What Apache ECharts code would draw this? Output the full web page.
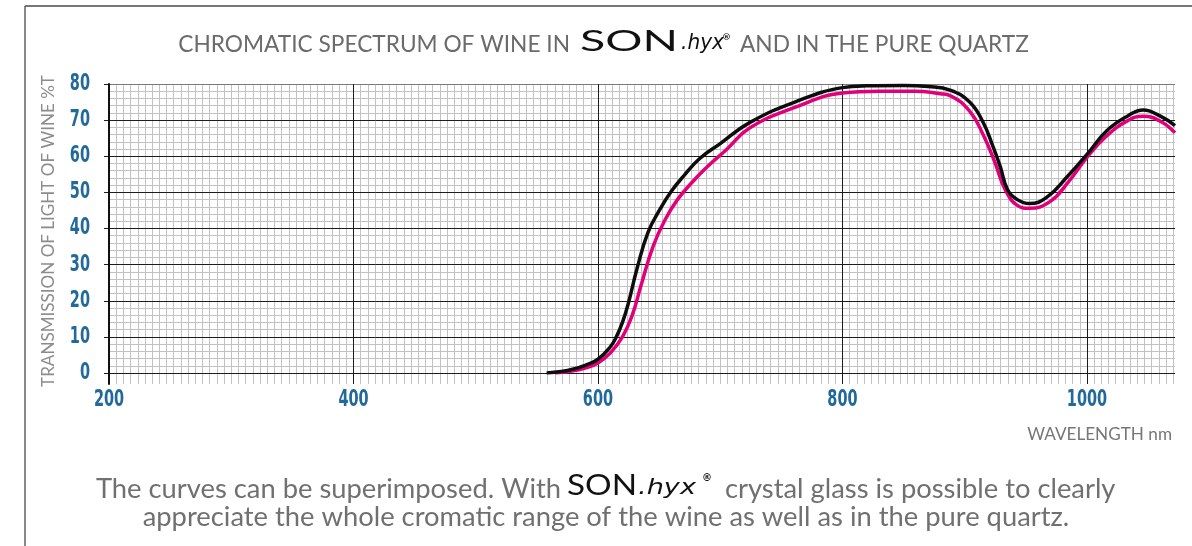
<!DOCTYPE html>
<html><head><meta charset="utf-8">
<script src="https://cdn.jsdelivr.net/npm/echarts@6/dist/echarts.min.js"></script>
<style>html,body{margin:0;padding:0;background:#fff}#c{width:1192px;height:546px}</style>
</head><body><div id="c"></div>
<script>
// ---- data ----
const xTicks = [200, 400, 600, 800, 1000];
const xMax = 1072;
const yTicks = [0, 10, 20, 30, 40, 50, 60, 70, 80];

const blackWavelength = [558, 570, 580, 590, 600, 610, 615, 620, 625, 632, 641, 651, 660, 670, 683, 700, 724, 761, 800, 820, 850, 870, 888, 904, 915, 923, 929, 935, 943, 953, 967, 984, 1000, 1016, 1033, 1046, 1060, 1072];
const blackTransmission = [0, 0.4, 1.1, 2.2, 3.8, 7.2, 10, 14, 19.5, 29, 39, 45.5, 50.3, 54.5, 59.3, 63.5, 69.3, 75, 79, 79.5, 79.6, 79.3, 78.3, 75, 69.4, 62.8, 57.2, 50.8, 48, 46.9, 48.6, 54.4, 60.5, 67, 71.1, 72.8, 71.1, 68.5];

const pinkWavelength = [565, 580, 590, 600, 610, 620, 628, 635, 645, 655, 665, 677, 690, 705, 724, 761, 800, 830, 860, 880, 888, 904, 915, 925, 933, 943, 953, 970, 985, 1000, 1016, 1033, 1046, 1060, 1072];
const pinkTransmission = [0, 0.6, 1.4, 2.8, 5.5, 10, 16, 24, 35, 42.5, 48, 52.8, 57.3, 61.8, 67.8, 73.5, 77.5, 78, 78, 77.3, 76.8, 72.5, 66, 58, 50.8, 46.4, 45.6, 47.5, 53, 59.7, 65.6, 69.8, 71.1, 69.7, 66.5];

const titleLeft = 'CHROMATIC SPECTRUM OF WINE IN';
const titleRight = 'AND IN THE PURE QUARTZ';
const brandMain = 'SON';
const brandScript = '.hyx';
const brandMark = '®';
const footLine1a = 'The curves can be superimposed. With';
const footLine1b = 'crystal glass is possible to clearly';
const footLine2 = 'appreciate the whole cromatic range of the wine as well as in the pure quartz.';
const yName = 'TRANSMISSION OF LIGHT OF WINE %T';
const xName = 'WAVELENGTH nm';

// ---- helpers ----
const ctx = document.createElement('canvas').getContext('2d');
function measure(text, font) { ctx.font = font; return ctx.measureText(text).width; }
function fitSize(text, family, weight, target) {
  const w = measure(text, weight + ' 20px ' + family);
  return 20 * target / w;
}
function txt(text, x, y, font, fill, align, extra) {
  return Object.assign({ type: 'text', x: x, y: y, z: 10,
    style: { text: text, fill: fill, font: font, align: align, textAlign: align, verticalAlign: 'middle', textVerticalAlign: 'middle' } }, extra || {});
}
function brand(x, y, sonW, sonSize, hyxX, hyxW, hyxSize, markX, markY, markSize) {
  const sonFont = 'normal ' + sonSize + 'px Lato';
  const hyxFont = 'italic 200 ' + hyxSize + 'px "DejaVu Sans"';
  return [
    txt(brandMain, x, y, sonFont, '#111', 'left', { scaleX: sonW / measure(brandMain, sonFont) }),
    txt(brandScript, hyxX, y + 2, hyxFont, '#111', 'left', { scaleX: hyxW / measure(brandScript, hyxFont) }),
    txt(brandMark, markX, markY, 'bold ' + markSize + 'px "DejaVu Sans"', '#111', 'left')
  ];
}

const minorPer200 = 34;
const minorMax = (xMax - xTicks[0]) / 200 * minorPer200;
const blue = '#22699b';
const gray = '#6b6b6b';
const tickFont = 'bold 23px "DejaVu Sans Condensed"';
const tickScale = 0.7;

function pairs(xs, ys) { return xs.map((x, i) => [x, ys[i]]); }

const titleSize = fitSize(titleLeft, 'Lato', 'normal', 392);
const footSize = fitSize(footLine2, 'Lato', 'normal', 927);
const yNameSize = fitSize(yName, 'Lato', 'normal', 312);
const xNameSize = fitSize(xName, 'Lato', 'normal', 145);

const staticGraphics = [
  { type: 'line', shape: { x1: 25, y1: 6, x2: 25, y2: 546 }, style: { stroke: '#4a4a4a', lineWidth: 1.3 } },
  { type: 'line', shape: { x1: 25, y1: 6, x2: 1192, y2: 6 }, style: { stroke: '#4a4a4a', lineWidth: 1.3 } },
  txt(titleLeft, 570, 45, titleSize + 'px Lato', gray, 'right'),
  ...brand(580, 42, 98, 28, 681, 43, 21, 722, 38, 9),
  txt(titleRight, 740, 45, titleSize + 'px Lato', gray, 'left'),
  txt(yName, 48, 231, yNameSize + 'px Lato', '#8c8c8c', 'center', { rotation: Math.PI / 2 }),
  txt(xName, 1172, 434, xNameSize + 'px Lato', '#777', 'right'),
  txt(footLine1a, 561, 489, footSize + 'px Lato', '#707070', 'right'),
  ...brand(567, 486, 70, 28, 638, 58, 22, 702, 478, 10),
  txt(footLine1b, 725, 489, footSize + 'px Lato', '#707070', 'left'),
  txt(footLine2, 606, 517, footSize + 'px Lato', '#707070', 'center')
];

const chart = echarts.init(document.getElementById('c'));
const option = {
  animation: false,
  backgroundColor: '#fff',
  grid: [
    { left: 109, right: 17, top: 84, bottom: 546 - 373 },
    { left: 109, right: 17, top: 84, bottom: 546 - 384 }
  ],
  xAxis: [
    { type: 'value', gridIndex: 0, min: xTicks[0], max: xMax, interval: 200,
      axisLine: { show: false }, axisTick: { show: false }, splitLine: { show: false }, axisLabel: { show: false } },
    { type: 'value', gridIndex: 1, min: 0, max: minorMax, interval: 1, z: 0,
      axisLine: { show: false }, axisTick: { show: false }, axisLabel: { show: false },
      splitLine: { show: true, showMinLine: false, showMaxLine: false, lineStyle: { color: '#c2c2c2', width: 1 } } },
    { type: 'value', gridIndex: 1, min: 0, max: minorMax, interval: minorPer200, z: 2,
      axisLine: { show: false }, axisTick: { show: false }, axisLabel: { show: false },
      splitLine: { show: true, showMinLine: false, showMaxLine: false, lineStyle: { color: '#1c1c1c', width: 1 } } }
  ],
  yAxis: [
    { type: 'value', gridIndex: 0, min: yTicks[0], max: yTicks[yTicks.length - 1], interval: 10, z: 1,
      axisLine: { show: false },
      axisTick: { show: true, length: 5, lineStyle: { color: '#1c1c1c' } },
      axisLabel: { show: false },
      splitLine: { show: true, lineStyle: { color: ['#1c1c1c','#1c1c1c','#1c1c1c','#1c1c1c','#1c1c1c','#1c1c1c','#1c1c1c','#1c1c1c','#7a7a7a'], width: 1 } },
      minorTick: { show: false, splitNumber: 5 },
      minorSplitLine: { show: true, lineStyle: { color: '#c2c2c2', width: 1 } } },
    { type: 'value', gridIndex: 1, min: 0, max: 1, z: 3,
      axisLine: { show: true, onZero: false, lineStyle: { color: '#111', width: 2 } },
      axisTick: { show: false }, axisLabel: { show: false }, splitLine: { show: false } }
  ],
  series: [
    { type: 'line', xAxisIndex: 0, yAxisIndex: 0, data: pairs(pinkWavelength, pinkTransmission),
      smooth: 0.45, symbol: 'none', z: 3, lineStyle: { color: '#e2007a', width: 3.5 } },
    { type: 'line', xAxisIndex: 0, yAxisIndex: 0, data: pairs(blackWavelength, blackTransmission),
      smooth: 0.45, symbol: 'none', z: 4, lineStyle: { color: '#0d0d0d', width: 3.5 } }
  ],
  graphic: staticGraphics
};
chart.setOption(option);

// tick labels placed through the axis scales
const tickGraphics = [];
xTicks.forEach(v => {
  const px = chart.convertToPixel({ xAxisIndex: 0 }, v);
  tickGraphics.push(txt(String(v), px, 400, tickFont, blue, 'center', { scaleX: tickScale }));
});
yTicks.forEach(v => {
  const py = chart.convertToPixel({ yAxisIndex: 0 }, v);
  tickGraphics.push(txt(String(v), 90, py, tickFont, blue, 'right', { scaleX: tickScale }));
});
chart.setOption({ graphic: staticGraphics.concat(tickGraphics) });
</script></body></html>
